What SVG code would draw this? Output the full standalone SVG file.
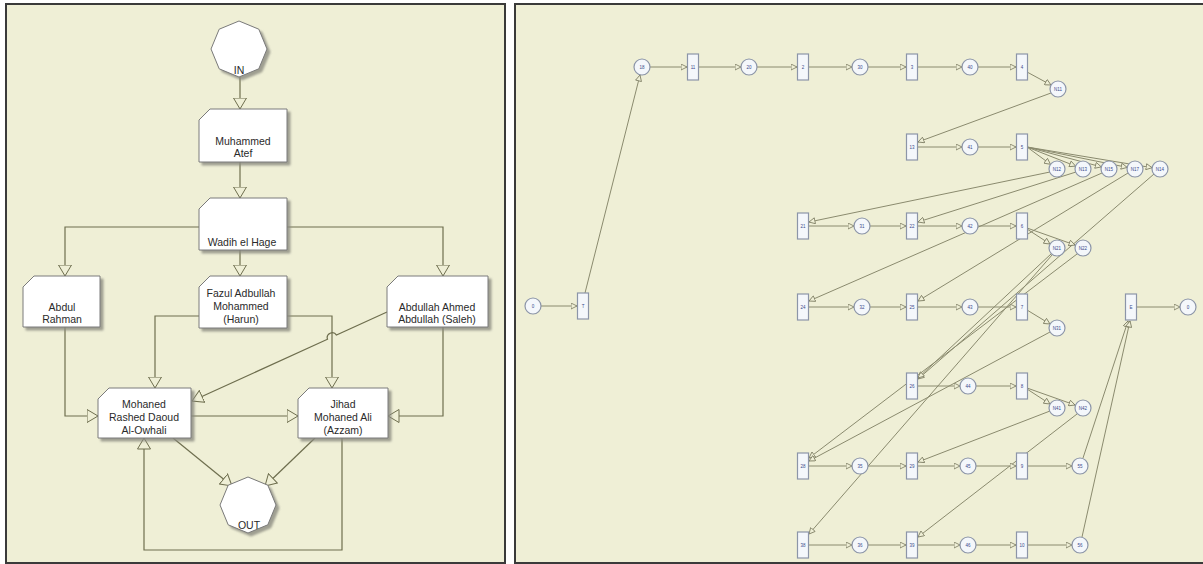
<svg xmlns="http://www.w3.org/2000/svg" width="1203" height="564" viewBox="0 0 1203 564">
<defs>
<style>
.panel{fill:#efefd6;stroke:#3a3a3a;stroke-width:2}
.box{fill:#ffffff;stroke:#7a7a7a;stroke-width:1;filter:url(#sh)}
.lbl{font-family:"Liberation Sans",Arial,sans-serif;font-size:10.5px;fill:#2a2a2a;text-anchor:middle}
.con{fill:none;stroke:#6e6e4e;stroke-width:1.2;marker-end:url(#ah)}
.pc{fill:none;stroke:#8a8a6e;stroke-width:1;marker-end:url(#pa)}
.pl{fill:#f4f7fb;stroke:#8c95a8;stroke-width:1.2}
.tr{fill:#f4f7fb;stroke:#8c95a8;stroke-width:1.2}
.pt{font-family:"Liberation Sans",Arial,sans-serif;font-size:4.5px;fill:#3a4a8a;text-anchor:middle}
</style>
<filter id="sh" x="-20%" y="-20%" width="140%" height="140%">
<feDropShadow dx="3" dy="3" stdDeviation="1.2" flood-color="#8a8a80" flood-opacity="0.8"/>
</filter>
<marker id="ah" viewBox="0 0 12 14" refX="11.5" refY="7" markerWidth="12" markerHeight="14" markerUnits="userSpaceOnUse" orient="auto">
<path d="M0.5,0.5 L11.5,7 L0.5,13.5 z" fill="#efefd6" stroke="#6e6e4e" stroke-width="1"/>
</marker>
<marker id="pa" viewBox="0 0 7 7" refX="6.5" refY="3.5" markerWidth="7" markerHeight="7" markerUnits="userSpaceOnUse" orient="auto">
<path d="M0.5,0.5 L6.5,3.5 L0.5,6.5 z" fill="#efefd6" stroke="#7a7a60" stroke-width="0.8"/>
</marker>
</defs>
<rect x="0" y="0" width="1203" height="564" fill="#ffffff"/>
<rect class="panel" x="6" y="4" width="499" height="559"/>
<rect class="panel" x="515" y="4" width="695" height="559"/>

<!-- LEFT PANEL connectors -->
<g id="left-connectors">
<path class="con" d="M240,77 L240,109"/>
<path class="con" d="M240,162 L240,198"/>
<path class="con" d="M199,227 L65,227 L65,276"/>
<path class="con" d="M240,250 L240,276"/>
<path class="con" d="M287,227 L443,227 L443,276"/>
<path class="con" d="M199,316 L155,316 L155,388"/>
<path class="con" d="M287,316 L332,316 L332,388"/>
<path class="con" d="M387,312 L336.5,335.1 A5,5 0 0 0 327.5,339.3 L192,401"/>
<path class="con" d="M65,327 L65,416 L98,416"/>
<path class="con" d="M191,416 L298,416"/>
<path class="con" d="M443,327 L443,416 L388,416"/>
<path class="con" d="M173,438 L232,486"/>
<path class="con" d="M315,438 L265,486"/>
<path class="con" d="M342,438 L342,550 L144,550 L144,438"/>
</g>

<!-- LEFT PANEL nodes -->
<g id="n-in">
<polygon class="box" points="239,21 258.8,29.2 267,49 258.8,68.8 239,77 219.2,68.8 211,49 219.2,29.2"/>
<text class="lbl" x="239" y="74">IN</text>
</g>
<g id="n-atef">
<path class="box" d="M210,109 L287,109 L287,162 L199,162 L199,120 z"/>
<text class="lbl" x="243" y="145">Muhammed</text>
<text class="lbl" x="243" y="157">Atef</text>
</g>
<g id="n-wadih">
<path class="box" d="M210,198 L287,198 L287,250 L199,250 L199,209 z"/>
<text class="lbl" x="242" y="246">Wadih el Hage</text>
</g>
<g id="n-abdul">
<path class="box" d="M34,276 L100,276 L100,327 L23,327 L23,287 z"/>
<text class="lbl" x="62" y="311">Abdul</text>
<text class="lbl" x="62" y="323">Rahman</text>
</g>
<g id="n-fazul">
<path class="box" d="M210,276 L287,276 L287,328 L199,328 L199,287 z"/>
<text class="lbl" x="241" y="297">Fazul Adbullah</text>
<text class="lbl" x="241" y="310">Mohammed</text>
<text class="lbl" x="241" y="323">(Harun)</text>
</g>
<g id="n-abdullah">
<path class="box" d="M398,276 L488,276 L488,327 L387,327 L387,287 z"/>
<text class="lbl" x="437" y="311">Abdullah Ahmed</text>
<text class="lbl" x="437" y="323">Abdullah (Saleh)</text>
</g>
<g id="n-mohaned">
<path class="box" d="M109,388 L191,388 L191,438 L98,438 L98,399 z"/>
<text class="lbl" x="144" y="408">Mohaned</text>
<text class="lbl" x="144" y="421">Rashed Daoud</text>
<text class="lbl" x="144" y="434">Al-Owhali</text>
</g>
<g id="n-jihad">
<path class="box" d="M309,388 L388,388 L388,438 L298,438 L298,399 z"/>
<text class="lbl" x="343" y="408">Jihad</text>
<text class="lbl" x="343" y="421">Mohaned Ali</text>
<text class="lbl" x="343" y="434">(Azzam)</text>
</g>
<g id="n-out">
<polygon class="box" points="248,477 267.8,485.2 276,505 267.8,524.8 248,533 228.2,524.8 220,505 228.2,485.2"/>
<text class="lbl" x="249" y="529">OUT</text>
</g>

<!-- RIGHT PANEL connectors -->
<g id="right-connectors">
<path class="pc" d="M541,306 L577,306"/>
<path class="pc" d="M585,293 L640,75"/>
<path class="pc" d="M650,67 L687,67"/>
<path class="pc" d="M699,67 L741,67"/>
<path class="pc" d="M757,67 L797,67"/>
<path class="pc" d="M809,67 L852,67"/>
<path class="pc" d="M868,67 L906,67"/>
<path class="pc" d="M918,67 L962,67"/>
<path class="pc" d="M978,67 L1016,67"/>
<path class="pc" d="M1027,72 L1051,85"/>
<path class="pc" d="M1051,93 L918,142"/>
<path class="pc" d="M918,147 L962,147"/>
<path class="pc" d="M978,147 L1016,147"/>
<path class="pc" d="M1027,147 L1050.5,164.3"/>
<path class="pc" d="M1027,147 L1075.6,166.1"/>
<path class="pc" d="M1027,147 L1101.3,166.9"/>
<path class="pc" d="M1027,147 L1127.2,167.4"/>
<path class="pc" d="M1027,147 L1152.1,167.7"/>
<path class="pc" d="M1050,172 L809,222"/>
<path class="pc" d="M1076,172 L918,222"/>
<path class="pc" d="M1102,173 L809,301"/>
<path class="pc" d="M1128,173 L918,301"/>
<path class="pc" d="M1154,174 L918,379"/>
<path class="pc" d="M809,226 L854,226"/>
<path class="pc" d="M870,226 L906,226"/>
<path class="pc" d="M918,226 L962,226"/>
<path class="pc" d="M978,226 L1016,226"/>
<path class="pc" d="M1027,229 L1050,244"/>
<path class="pc" d="M1027,228 L1075,245"/>
<path class="pc" d="M1051,254 L918,378"/>
<path class="pc" d="M1052,255 L809,534"/>
<path class="pc" d="M1077,254 L809,458"/>
<path class="pc" d="M809,307 L854,307"/>
<path class="pc" d="M870,307 L906,307"/>
<path class="pc" d="M918,307 L962,307"/>
<path class="pc" d="M978,307 L1016,307"/>
<path class="pc" d="M1027,310 L1050,324"/>
<path class="pc" d="M1050,332 L809,461"/>
<path class="pc" d="M918,386 L960,386"/>
<path class="pc" d="M976,386 L1016,386"/>
<path class="pc" d="M1027,389 L1050,404"/>
<path class="pc" d="M1027,388 L1075,405"/>
<path class="pc" d="M1050,411 L918,462"/>
<path class="pc" d="M1077,414 L918,537"/>
<path class="pc" d="M809,466 L852,466"/>
<path class="pc" d="M868,466 L906,466"/>
<path class="pc" d="M918,466 L960,466"/>
<path class="pc" d="M976,466 L1016,466"/>
<path class="pc" d="M1028,466 L1072,466"/>
<path class="pc" d="M1083,458 L1128,321"/>
<path class="pc" d="M809,545 L852,545"/>
<path class="pc" d="M868,545 L906,545"/>
<path class="pc" d="M918,545 L960,545"/>
<path class="pc" d="M976,545 L1016,545"/>
<path class="pc" d="M1028,545 L1072,545"/>
<path class="pc" d="M1082,537 L1130,321"/>
<path class="pc" d="M1137,307 L1180,307"/>
</g>

<!-- RIGHT PANEL places -->
<g id="p0"><circle class="pl" cx="533" cy="306" r="8"/><text class="pt" x="533" y="308">0</text></g>
<g id="p1"><circle class="pl" cx="642" cy="67" r="8"/><text class="pt" x="642" y="69">18</text></g>
<g id="p2"><circle class="pl" cx="749" cy="67" r="8"/><text class="pt" x="749" y="69">20</text></g>
<g id="p3"><circle class="pl" cx="860" cy="67" r="8"/><text class="pt" x="860" y="69">30</text></g>
<g id="p4"><circle class="pl" cx="970" cy="67" r="8"/><text class="pt" x="970" y="69">40</text></g>
<g id="p5"><circle class="pl" cx="1058" cy="89" r="8"/><text class="pt" x="1058" y="91">N11</text></g>
<g id="p6"><circle class="pl" cx="970" cy="147" r="8"/><text class="pt" x="970" y="149">41</text></g>
<g id="q1"><circle class="pl" cx="1057" cy="169" r="8"/><text class="pt" x="1057" y="171">N12</text></g>
<g id="q2"><circle class="pl" cx="1083" cy="169" r="8"/><text class="pt" x="1083" y="171">N13</text></g>
<g id="q3"><circle class="pl" cx="1109" cy="169" r="8"/><text class="pt" x="1109" y="171">N15</text></g>
<g id="q4"><circle class="pl" cx="1135" cy="169" r="8"/><text class="pt" x="1135" y="171">N17</text></g>
<g id="q5"><circle class="pl" cx="1160" cy="169" r="8"/><text class="pt" x="1160" y="171">N14</text></g>
<g id="r3a"><circle class="pl" cx="862" cy="226" r="8"/><text class="pt" x="862" y="228">31</text></g>
<g id="r3b"><circle class="pl" cx="970" cy="226" r="8"/><text class="pt" x="970" y="228">42</text></g>
<g id="r3c"><circle class="pl" cx="1057" cy="248" r="8"/><text class="pt" x="1057" y="250">N21</text></g>
<g id="r3d"><circle class="pl" cx="1083" cy="248" r="8"/><text class="pt" x="1083" y="250">N22</text></g>
<g id="r4a"><circle class="pl" cx="862" cy="307" r="8"/><text class="pt" x="862" y="309">32</text></g>
<g id="r4b"><circle class="pl" cx="970" cy="307" r="8"/><text class="pt" x="970" y="309">43</text></g>
<g id="r4c"><circle class="pl" cx="1057" cy="328" r="8"/><text class="pt" x="1057" y="330">N31</text></g>
<g id="r5a"><circle class="pl" cx="968" cy="386" r="8"/><text class="pt" x="968" y="388">44</text></g>
<g id="r5b"><circle class="pl" cx="1057" cy="408" r="8"/><text class="pt" x="1057" y="410">N41</text></g>
<g id="r5c"><circle class="pl" cx="1083" cy="408" r="8"/><text class="pt" x="1083" y="410">N42</text></g>
<g id="r6a"><circle class="pl" cx="860" cy="466" r="8"/><text class="pt" x="860" y="468">35</text></g>
<g id="r6b"><circle class="pl" cx="968" cy="466" r="8"/><text class="pt" x="968" y="468">45</text></g>
<g id="r6c"><circle class="pl" cx="1080" cy="466" r="8"/><text class="pt" x="1080" y="468">55</text></g>
<g id="r7a"><circle class="pl" cx="860" cy="545" r="8"/><text class="pt" x="860" y="547">36</text></g>
<g id="r7b"><circle class="pl" cx="968" cy="545" r="8"/><text class="pt" x="968" y="547">46</text></g>
<g id="r7c"><circle class="pl" cx="1080" cy="545" r="8"/><text class="pt" x="1080" y="547">56</text></g>
<g id="pout"><circle class="pl" cx="1188" cy="307" r="8"/><text class="pt" x="1188" y="309">0</text></g>

<!-- RIGHT PANEL transitions -->
<g id="tA"><rect class="tr" x="577.5" y="293" width="11" height="26"/><text class="pt" x="583" y="308">T</text></g>
<g id="t1"><rect class="tr" x="687.5" y="54" width="11" height="26"/><text class="pt" x="693" y="69">11</text></g>
<g id="t2"><rect class="tr" x="797.5" y="54" width="11" height="26"/><text class="pt" x="803" y="69">2</text></g>
<g id="t3"><rect class="tr" x="906.5" y="54" width="11" height="26"/><text class="pt" x="912" y="69">3</text></g>
<g id="t4"><rect class="tr" x="1016.5" y="54" width="11" height="26"/><text class="pt" x="1022" y="69">4</text></g>
<g id="t5"><rect class="tr" x="906.5" y="134" width="11" height="26"/><text class="pt" x="912" y="149">13</text></g>
<g id="t6"><rect class="tr" x="1016.5" y="134" width="11" height="26"/><text class="pt" x="1022" y="149">5</text></g>
<g id="t7"><rect class="tr" x="797.5" y="213" width="11" height="26"/><text class="pt" x="803" y="228">21</text></g>
<g id="t8"><rect class="tr" x="906.5" y="213" width="11" height="26"/><text class="pt" x="912" y="228">22</text></g>
<g id="t9"><rect class="tr" x="1016.5" y="213" width="11" height="26"/><text class="pt" x="1022" y="228">6</text></g>
<g id="t10"><rect class="tr" x="797.5" y="294" width="11" height="26"/><text class="pt" x="803" y="309">24</text></g>
<g id="t11"><rect class="tr" x="906.5" y="294" width="11" height="26"/><text class="pt" x="912" y="309">25</text></g>
<g id="t12"><rect class="tr" x="1016.5" y="294" width="11" height="26"/><text class="pt" x="1022" y="309">7</text></g>
<g id="t13"><rect class="tr" x="906.5" y="373" width="11" height="26"/><text class="pt" x="912" y="388">26</text></g>
<g id="t14"><rect class="tr" x="1016.5" y="373" width="11" height="26"/><text class="pt" x="1022" y="388">8</text></g>
<g id="t15"><rect class="tr" x="797.5" y="453" width="11" height="26"/><text class="pt" x="803" y="468">28</text></g>
<g id="t16"><rect class="tr" x="906.5" y="453" width="11" height="26"/><text class="pt" x="912" y="468">29</text></g>
<g id="t17"><rect class="tr" x="1016.5" y="453" width="11" height="26"/><text class="pt" x="1022" y="468">9</text></g>
<g id="t18"><rect class="tr" x="797.5" y="532" width="11" height="26"/><text class="pt" x="803" y="547">38</text></g>
<g id="t19"><rect class="tr" x="906.5" y="532" width="11" height="26"/><text class="pt" x="912" y="547">39</text></g>
<g id="t20"><rect class="tr" x="1016.5" y="532" width="11" height="26"/><text class="pt" x="1022" y="547">10</text></g>
<g id="tout"><rect class="tr" x="1125.5" y="294" width="11" height="26"/><text class="pt" x="1131" y="309">E</text></g>
</svg>
